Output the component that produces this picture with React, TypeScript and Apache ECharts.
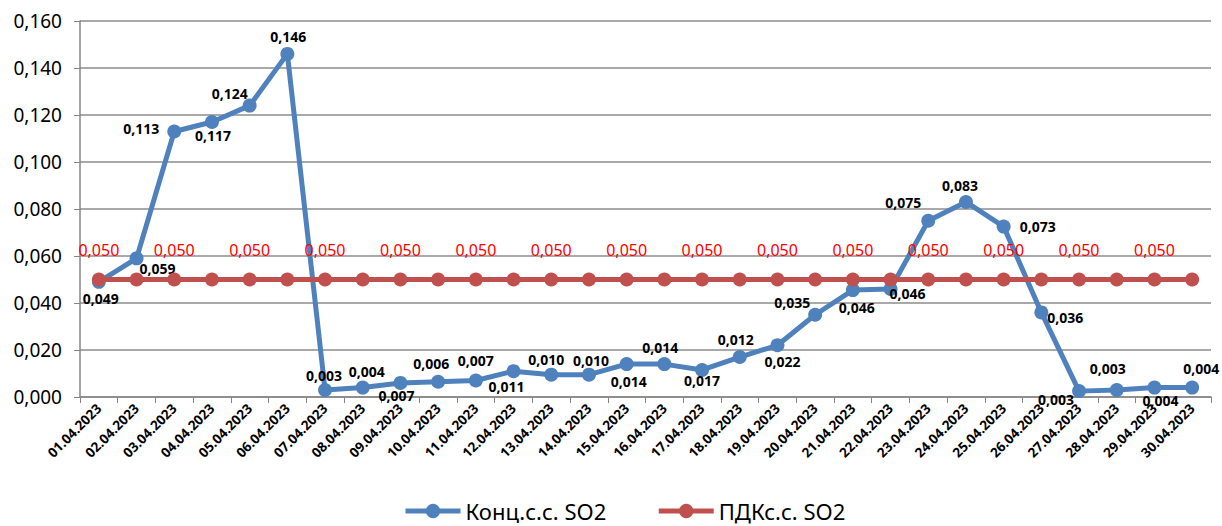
import React, { useEffect, useRef } from "react";
import * as echarts from "echarts";

const categories = [
  "01.04.2023", "02.04.2023", "03.04.2023", "04.04.2023", "05.04.2023",
  "06.04.2023", "07.04.2023", "08.04.2023", "09.04.2023", "10.04.2023",
  "11.04.2023", "12.04.2023", "13.04.2023", "14.04.2023", "15.04.2023",
  "16.04.2023", "17.04.2023", "18.04.2023", "19.04.2023", "20.04.2023",
  "21.04.2023", "22.04.2023", "23.04.2023", "24.04.2023", "25.04.2023",
  "26.04.2023", "27.04.2023", "28.04.2023", "29.04.2023", "30.04.2023",
];

const concValues = [
  0.049, 0.059, 0.113, 0.117, 0.124, 0.146, 0.003, 0.004, 0.006, 0.0065,
  0.007, 0.011, 0.0095, 0.0095, 0.014, 0.014, 0.0115, 0.017, 0.022, 0.035,
  0.0455, 0.046, 0.075, 0.083, 0.0725, 0.036, 0.0025, 0.003, 0.004, 0.004,
];

const concLabels = [
  "0,049", "0,059", "0,113", "0,117", "0,124", "0,146", "0,003", "0,004", "0,007", "0,006",
  "0,007", "0,011", "0,010", "0,010", "0,014", "0,014", "0,017", "0,012", "0,022", "0,035",
  "0,046", "0,046", "0,075", "0,083", "0,073", "0,036", "0,003", "0,003", "0,004", "0,004",
];

const pdkValues = [
  0.05, 0.05, 0.05, 0.05, 0.05, 0.05, 0.05, 0.05, 0.05, 0.05,
  0.05, 0.05, 0.05, 0.05, 0.05, 0.05, 0.05, 0.05, 0.05, 0.05,
  0.05, 0.05, 0.05, 0.05, 0.05, 0.05, 0.05, 0.05, 0.05, 0.05,
];

const yTicks = { min: 0, max: 0.16, interval: 0.02 };

// label offsets (px) of the concentration labels relative to their points
const concLabelOffsets: [number, number][] = [
  [2, 17], [21, 10], [-33, -3], [1, 13], [-20, -12], [1, -17], [-1, -14], [4, -16], [-4, 13], [-7, -18],
  [0, -20], [-7, 15], [-5, -15], [2, -14], [2, 17], [-4, -17], [0, 11], [-4, -18], [5, 16], [-23, -12],
  [4, 17], [17, 5], [-25, -18], [-6, -16], [34, 0], [24, 5], [-23, 8], [-9, -21], [6, 13], [9, -19],
];

const FONT = "'Noto Sans', 'Liberation Sans', sans-serif";
const fmt = (v: number) => v.toFixed(3).replace(".", ",");

export default function App() {
  const ref = useRef<HTMLDivElement>(null);
  useEffect(() => {
    document.body.style.margin = "0";
    if (!ref.current) return;
    const chart = echarts.init(ref.current, undefined, { renderer: "svg" });
    chart.setOption({
      animation: false,
      backgroundColor: "#ffffff",
      textStyle: { fontFamily: FONT },
      grid: { left: 80, right: 11, top: 21, bottom: 129, containLabel: false },
      legend: {
        left: 403,
        top: 499,
        padding: 0,
        itemWidth: 55,
        itemHeight: 18,
        itemGap: 50,
        lineStyle: { width: 5 },
        textStyle: { fontSize: 22, color: "#000", fontFamily: FONT, lineHeight: 24 },
        data: ["Конц.с.с. SO2", "ПДКс.с. SO2"],
      },
      xAxis: {
        type: "category",
        data: categories,
        boundaryGap: true,
        axisLine: { show: true, lineStyle: { color: "#868686", width: 1.5 } },
        axisTick: { show: true, interval: 0, length: 6, lineStyle: { color: "#868686" } },
        axisLabel: {
          interval: 0,
          rotate: 45,
          fontSize: 13.5,
          fontWeight: "bold",
          color: "#000",
          margin: 9,
          fontFamily: FONT,
        },
        splitLine: { show: false },
      },
      yAxis: {
        type: "value",
        min: yTicks.min,
        max: yTicks.max,
        interval: yTicks.interval,
        axisLine: { show: true, lineStyle: { color: "#868686", width: 1.5 } },
        axisTick: { show: true, length: 6, lineStyle: { color: "#868686" } },
        axisLabel: {
          formatter: (v: number) => fmt(v),
          fontSize: 19,
          color: "#000",
          margin: 18,
          fontFamily: FONT,
        },
        splitLine: { show: true, lineStyle: { color: "#8c8c8c", width: 1.5 } },
      },
      series: [
        {
          name: "Конц.с.с. SO2",
          type: "line",
          data: concValues.map((v, i) => ({
            value: v,
            label: {
              show: true,
              position: "inside",
              offset: concLabelOffsets[i],
              formatter: () => concLabels[i],
            },
          })),
          symbol: "circle",
          symbolSize: 14,
          itemStyle: { color: "#4F81BD" },
          lineStyle: { color: "#4F81BD", width: 5 },
          label: {
            show: true,
            color: "#000",
            fontSize: 14,
            fontWeight: "bold",
            fontFamily: FONT,
            align: "center",
            verticalAlign: "middle",
          },
          z: 2,
        },
        {
          name: "ПДКс.с. SO2",
          type: "line",
          data: pdkValues,
          symbol: "circle",
          symbolSize: 14,
          itemStyle: { color: "#C0504D" },
          lineStyle: { color: "#C0504D", width: 5 },
          label: {
            show: true,
            position: "inside",
            offset: [0, -30],
            color: "#FF0000",
            fontSize: 16,
            fontFamily: FONT,
            formatter: (p: any) => (p.dataIndex % 2 === 0 ? fmt(p.value) : ""),
          },
          z: 3,
        },
      ],
    });
    return () => chart.dispose();
  }, []);
  return <div ref={ref} style={{ width: 1222, height: 526 }} />;
}
